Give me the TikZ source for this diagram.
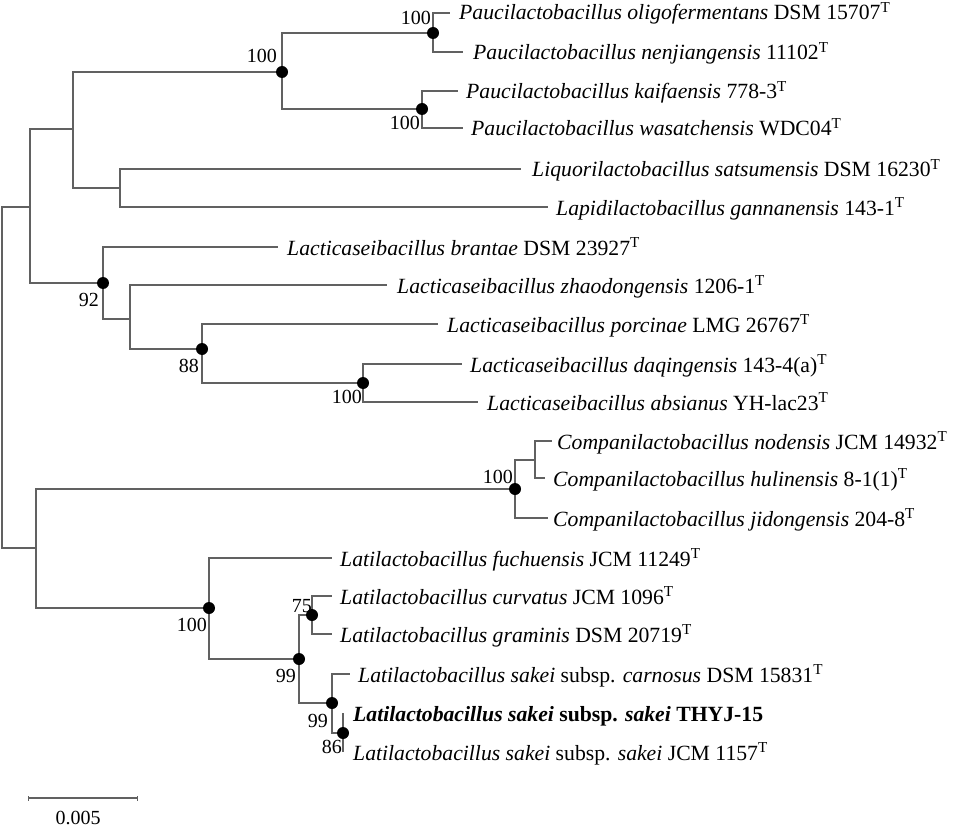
\documentclass[tikz,border=0pt]{standalone}
\usepackage{fontspec}
\setmainfont{Liberation Serif}
\newcommand\typeT{\textsuperscript{T}}
\begin{document}
\begin{tikzpicture}[x=1pt,y=-1pt,
  br/.style={draw=black!62, line width=1.2pt},
  dot/.style={circle, fill=black, inner sep=0pt, minimum size=12pt},
  leaf/.style={anchor=base west, inner sep=0pt, font=\fontsize{21.7}{25}\selectfont},
  bs/.style={anchor=base east, inner sep=0pt, font=\fontsize{20}{24}\selectfont}]
\useasboundingbox (0,0) rectangle (960,829);
% internal nodes
\coordinate (root) at (2,377);
\coordinate (nA) at (30,207);
\coordinate (nB) at (73,129);
\coordinate (nC) at (282,72);
\coordinate (nD) at (433,33);
\coordinate (nE) at (422,109);
\coordinate (nF) at (120,188);
\coordinate (n92) at (103,283);
\coordinate (nG) at (130,319);
\coordinate (n88) at (202,349);
\coordinate (n100d) at (363,383);
\coordinate (nH) at (36,548);
\coordinate (nComp) at (515,489);
\coordinate (nSub) at (535,460);
\coordinate (nLat) at (209,608);
\coordinate (n99a) at (299,659);
\coordinate (n75) at (312,615);
\coordinate (n99b) at (332,703);
\coordinate (n86) at (343,733);
% leaf ends
\coordinate (l1) at (450,13);
\coordinate (l2) at (463,52);
\coordinate (l3) at (458,91);
\coordinate (l4) at (463,128);
\coordinate (l5) at (521,169);
\coordinate (l6) at (548,207);
\coordinate (l7) at (278,247);
\coordinate (l8) at (387,285);
\coordinate (l9) at (438,324);
\coordinate (l10) at (462,364);
\coordinate (l11) at (478,402);
\coordinate (l12) at (552,441);
\coordinate (l13) at (545,478);
\coordinate (l14) at (548,518);
\coordinate (l15) at (332,558);
\coordinate (l16) at (332,596);
\coordinate (l17) at (332,634);
\coordinate (l18) at (350,674);
\coordinate (l19) at (343,713);
\coordinate (l20) at (343,752);
% branches
\draw[br] (root) |- (nA);
\draw[br] (root) |- (nH);
\draw[br] (nA) |- (nB);
\draw[br] (nA) |- (n92);
\draw[br] (nB) |- (nC);
\draw[br] (nB) |- (nF);
\draw[br] (nC) |- (nD);
\draw[br] (nC) |- (nE);
\draw[br] (nD) |- (l1);
\draw[br] (nD) |- (l2);
\draw[br] (nE) |- (l3);
\draw[br] (nE) |- (l4);
\draw[br] (nF) |- (l5);
\draw[br] (nF) |- (l6);
\draw[br] (n92) |- (l7);
\draw[br] (n92) |- (nG);
\draw[br] (nG) |- (l8);
\draw[br] (nG) |- (n88);
\draw[br] (n88) |- (l9);
\draw[br] (n88) |- (n100d);
\draw[br] (n100d) |- (l10);
\draw[br] (n100d) |- (l11);
\draw[br] (nH) |- (nComp);
\draw[br] (nH) |- (nLat);
\draw[br] (nComp) |- (nSub);
\draw[br] (nComp) |- (l14);
\draw[br] (nSub) |- (l12);
\draw[br] (nSub) |- (l13);
\draw[br] (nLat) |- (l15);
\draw[br] (nLat) |- (n99a);
\draw[br] (n99a) |- (n75);
\draw[br] (n99a) |- (n99b);
\draw[br] (n75) |- (l16);
\draw[br] (n75) |- (l17);
\draw[br] (n99b) |- (l18);
\draw[br] (n99b) |- (n86);
\draw[br] (n86) -- (l19);
\draw[br] (n86) -- (l20);
% dots
\foreach \n in {nC,nD,nE,n92,n88,n100d,nComp,nLat,n75,n99a,n99b,n86}
  \node[dot] (d\n) at (\n) {};
% bootstrap values
\node[bs] (bC) at (277,63) {100};
\node[bs] (bD) at (431,25) {100};
\node[bs] (bE) at (420,130) {100};
\node[bs] (b92) at (99,306) {92};
\node[bs] (b88) at (199,372) {88};
\node[bs] (b100d) at (362,403) {100};
\node[bs] (bComp) at (513,483) {100};
\node[bs] (bLat) at (207,631) {100};
\node[bs] (b75) at (312,612) {75};
\node[bs] (b99a) at (296,682) {99};
\node[bs] (b99b) at (328,727) {99};
\node[bs] (b86) at (342,753) {86};
% leaf labels
\node[leaf] (t1) at (459,20) {\textit{Paucilactobacillus oligofermentans} DSM 15707\typeT};
\node[leaf] (t2) at (473,60) {\textit{Paucilactobacillus nenjiangensis} 11102\typeT};
\node[leaf] (t3) at (466,99) {\textit{Paucilactobacillus kaifaensis} 778-3\typeT};
\node[leaf] (t4) at (471,136) {\textit{Paucilactobacillus wasatchensis} WDC04\typeT};
\node[leaf] (t5) at (532,177) {\textit{Liquorilactobacillus satsumensis} DSM 16230\typeT};
\node[leaf] (t6) at (556,215) {\textit{Lapidilactobacillus gannanensis} 143-1\typeT};
\node[leaf] (t7) at (287,255) {\textit{Lacticaseibacillus brantae} DSM 23927\typeT};
\node[leaf] (t8) at (397,293) {\textit{Lacticaseibacillus zhaodongensis} 1206-1\typeT};
\node[leaf] (t9) at (447,332) {\textit{Lacticaseibacillus porcinae} LMG 26767\typeT};
\node[leaf] (t10) at (470,372) {\textit{Lacticaseibacillus daqingensis} 143-4(a)\typeT};
\node[leaf] (t11) at (487,410) {\textit{Lacticaseibacillus absianus} YH-lac23\typeT};
\node[leaf] (t12) at (557,449) {\textit{Companilactobacillus nodensis} JCM 14932\typeT};
\node[leaf] (t13) at (553,486) {\textit{Companilactobacillus hulinensis} 8-1(1)\typeT};
\node[leaf] (t14) at (553,526) {\textit{Companilactobacillus jidongensis} 204-8\typeT};
\node[leaf] (t15) at (340,566) {\textit{Latilactobacillus fuchuensis} JCM 11249\typeT};
\node[leaf] (t16) at (340,604) {\textit{Latilactobacillus curvatus} JCM 1096\typeT};
\node[leaf] (t17) at (340,642) {\textit{Latilactobacillus graminis} DSM 20719\typeT};
\node[leaf] (t18) at (358,682) {\textit{Latilactobacillus sakei} subsp. \textit{carnosus} DSM 15831\typeT};
\node[leaf] (t19) at (353,721) {\bfseries\textit{Latilactobacillus sakei} subsp. \textit{sakei} THYJ-15};
\node[leaf] (t20) at (353,760) {\textit{Latilactobacillus sakei} subsp. \textit{sakei} JCM 1157\typeT};
% scale bar
\coordinate (sb1) at (28,798);
\coordinate (sb2) at (137,798);
\draw[br] (sb1) -- (sb2);
\draw[br, line width=1pt] ([yshift=-2.5pt]sb1) -- ([yshift=2.5pt]sb1);
\draw[br, line width=1pt] ([yshift=-2.5pt]sb2) -- ([yshift=2.5pt]sb2);
\node[anchor=base, inner sep=0pt, font=\fontsize{20}{24}\selectfont] (sbl) at (78,824) {0.005};
\end{tikzpicture}
\end{document}
